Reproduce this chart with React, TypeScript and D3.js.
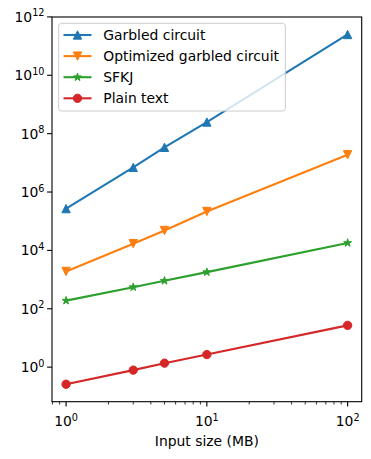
import React from "react";
import * as d3 from "d3";

// input sizes in MB
const sizes = [1, 3, 5, 10, 100];

const garbled = [2.7e5, 7e6, 3.4e7, 2.5e8, 2.5e11];
const optimized = [1.9e3, 1.7e4, 4.8e4, 2.15e5, 1.9e7];
const sfkj = [1.9e2, 5.5e2, 9.1e2, 1.8e3, 1.8e4];
const plain = [0.26, 0.79, 1.37, 2.7, 27];

const seriesNames = ["Garbled circuit", "Optimized garbled circuit", "SFKJ", "Plain text"];
const seriesColors = ["#1f77b4", "#ff7f0e", "#2ca02c", "#d62728"];
const seriesMarkers = ["triangle-up", "triangle-down", "star", "circle"];

const xTicks = [1, 10, 100];
const yTicks = [1, 1e2, 1e4, 1e6, 1e8, 1e10, 1e12];

const width = 371;
const height = 459;
const margin = { top: 17, right: 9.3, bottom: 57.3, left: 52 };
const font = "'DejaVu Sans', sans-serif";

function Marker({ kind, color }) {
  const r = 4.17;
  if (kind === "circle") {
    return <circle r={r} fill={color} stroke={color} strokeWidth={1} />;
  }
  if (kind === "triangle-up" || kind === "triangle-down") {
    const s = kind === "triangle-up" ? 1 : -1;
    const pts = [
      [0, -r * s],
      [-r, r * s],
      [r, r * s],
    ];
    return <polygon points={pts.map((p) => p.join(",")).join(" ")} fill={color} stroke={color} strokeWidth={1} />;
  }
  // five point star
  const inner = r * 0.381966;
  const pts = d3.range(10).map((i) => {
    const rad = i % 2 === 0 ? r : inner;
    const a = (i * Math.PI) / 5;
    return [rad * Math.sin(a), -rad * Math.cos(a)];
  });
  return <polygon points={pts.map((p) => p.join(",")).join(" ")} fill={color} stroke={color} strokeWidth={1} />;
}

function Pow({ base, exp, anchor, x, y }) {
  return (
    <text x={x} y={y} textAnchor={anchor} fontFamily={font} fontSize={13.9} fill="#000">
      {base}
      <tspan dy={-5.5} fontSize={9.7}>
        {exp}
      </tspan>
    </text>
  );
}

export default function App() {
  const series = [garbled, optimized, sfkj, plain];
  const innerW = width - margin.left - margin.right;
  const innerH = height - margin.top - margin.bottom;

  // matplotlib-style 5% padding in log space
  const lx = d3.extent(sizes).map(Math.log10);
  const padX = (lx[1] - lx[0]) * 0.05;
  const x = d3
    .scaleLog()
    .domain([10 ** (lx[0] - padX), 10 ** (lx[1] + padX)])
    .range([margin.left, margin.left + innerW]);

  const ly = d3.extent(series.flat()).map(Math.log10);
  const padY = (ly[1] - ly[0]) * 0.05;
  const y = d3
    .scaleLog()
    .domain([10 ** (ly[0] - padY), 10 ** (ly[1] + padY)])
    .range([margin.top + innerH, margin.top]);

  const line = d3
    .line()
    .x((d) => x(d[0]))
    .y((d) => y(d[1]));

  // minor ticks on x, every 1..9 within each decade
  const minorX = [];
  [0.1, 1, 10, 100].forEach((dec) => {
    for (let k = 2; k <= 9; k++) {
      const v = dec * k;
      if (v >= x.domain()[0] && v <= x.domain()[1]) minorX.push(v);
    }
  });

  const bottom = margin.top + innerH;
  const legX = 58.7;
  const legY = 23.3;
  const rowH = 21.1;

  return (
    <svg
      width={width}
      height={height}
      style={{ position: "absolute", left: 0, top: 0, background: "#fff" }}
    >
      <rect x={0} y={0} width={width} height={height} fill="#fff" />
      <g>
        {series.map((vals, i) => (
          <g key={seriesNames[i]}>
            <path
              d={line(sizes.map((s, j) => [s, vals[j]]))}
              fill="none"
              stroke={seriesColors[i]}
              strokeWidth={2.08}
            />
            {sizes.map((s, j) => (
              <g key={j} transform={`translate(${x(s)},${y(vals[j])})`}>
                <Marker kind={seriesMarkers[i]} color={seriesColors[i]} />
              </g>
            ))}
          </g>
        ))}
      </g>

      {/* axes frame */}
      <rect
        x={margin.left}
        y={margin.top}
        width={innerW}
        height={innerH}
        fill="none"
        stroke="#000"
        strokeWidth={1.1}
      />

      {/* x ticks */}
      {minorX.map((v) => (
        <line key={"m" + v} x1={x(v)} x2={x(v)} y1={bottom} y2={bottom + 2.8} stroke="#000" strokeWidth={0.8} />
      ))}
      {xTicks.map((v) => (
        <g key={v}>
          <line x1={x(v)} x2={x(v)} y1={bottom} y2={bottom + 4.9} stroke="#000" strokeWidth={1.1} />
          <Pow base="10" exp={String(Math.round(Math.log10(v)))} anchor="middle" x={x(v)} y={bottom + 24.5} />
        </g>
      ))}

      {/* y ticks */}
      {yTicks.map((v) => (
        <g key={v}>
          <line x1={margin.left - 4.9} x2={margin.left} y1={y(v)} y2={y(v)} stroke="#000" strokeWidth={1.1} />
          <Pow base="10" exp={String(Math.round(Math.log10(v)))} anchor="end" x={margin.left - 7.5} y={y(v) + 5} />
        </g>
      ))}

      <text
        x={margin.left + innerW / 2}
        y={446}
        textAnchor="middle"
        fontFamily={font}
        fontSize={13.9}
        fill="#000"
      >
        Input size (MB)
      </text>

      {/* legend */}
      <rect
        x={legX}
        y={legY}
        width={226.6}
        height={87.7}
        rx={2.8}
        fill="#fff"
        fillOpacity={0.8}
        stroke="#cccccc"
        strokeWidth={1}
      />
      {seriesNames.map((name, i) => {
        const cy = 35 + i * rowH;
        return (
          <g key={name}>
            <line x1={63.5} x2={91.5} y1={cy} y2={cy} stroke={seriesColors[i]} strokeWidth={2.08} />
            <g transform={`translate(77.5,${cy})`}>
              <Marker kind={seriesMarkers[i]} color={seriesColors[i]} />
            </g>
            <text x={103.3} y={cy + 5} fontFamily={font} fontSize={13.9} fill="#000">
              {name}
            </text>
          </g>
        );
      })}
    </svg>
  );
}
